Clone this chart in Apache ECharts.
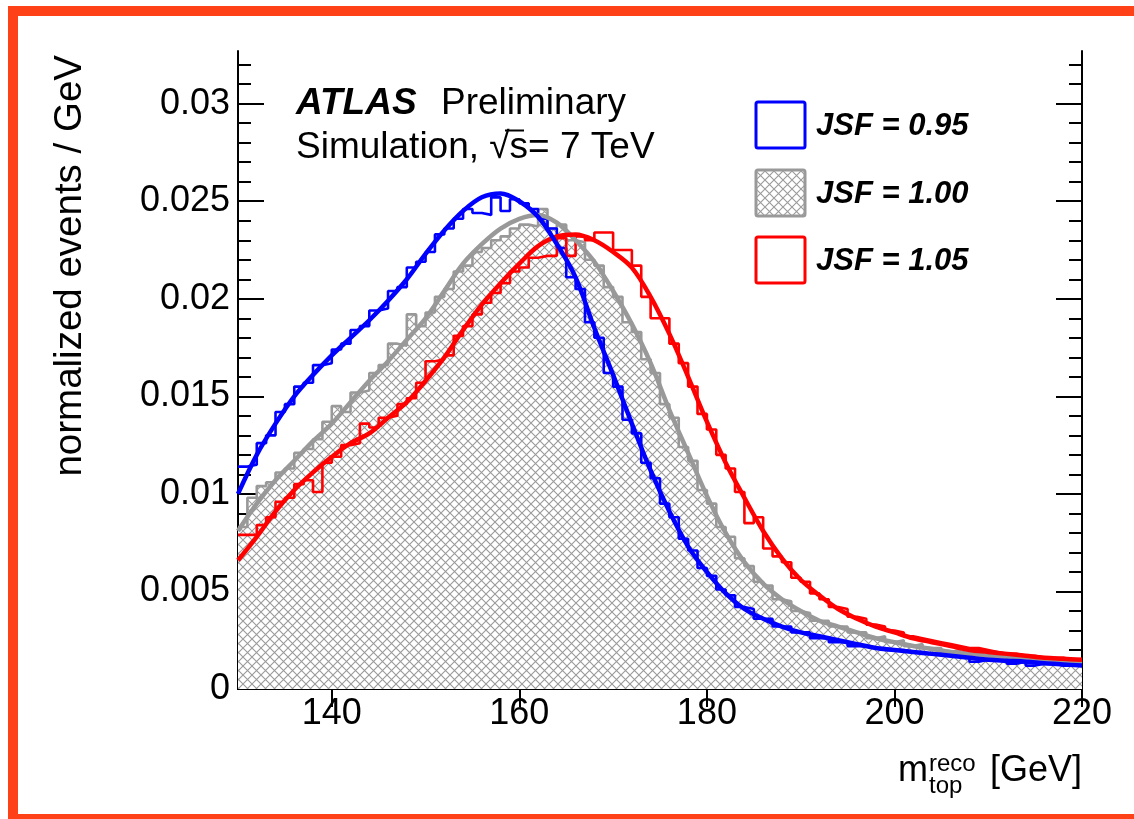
<!DOCTYPE html>
<html><head><meta charset="utf-8">
<script src="https://cdn.jsdelivr.net/npm/echarts@6/dist/echarts.min.js"></script>
<style>html,body{margin:0;padding:0;background:#fff}#c{width:1134px;height:819px}</style>
</head><body><div id="c"></div><script>
// ---------------- data ----------------
const binLow = 130;           // first bin low edge [GeV]
const binWidth = 1;           // bin width [GeV]
const histBlue = [
 0.0114,0.0115,0.0126,0.0130,0.0142,0.0146,0.0155,0.0157,0.0166,0.0167,
 0.0174,0.0177,0.0184,0.0186,0.0194,0.0195,0.0204,0.0206,0.0216,0.0219,
 0.0224,0.0233,0.0236,0.0241,0.0246,0.0244,0.0243,0.0252,0.0245,0.0251,
 0.0249,0.0246,0.0241,0.0236,0.0226,0.0211,0.0205,0.0188,0.0180,0.0162,
 0.0155,0.0138,0.0131,0.0116,0.0108,0.0095,0.0088,0.0077,0.0071,0.0062,
 0.0058,0.0051,0.0048,0.0042,0.0041,0.0036,0.0036,0.0032,0.0032,0.0029,
 0.0029,0.0026,0.0026,0.0024,0.0024,0.0022,0.0022,0.0021,0.0021,0.0020,
 0.0020,0.0019,0.0019,0.0018,0.0018,0.0017,0.0017,0.0016,0.0014,0.0015,
 0.0015,0.0015,0.0013,0.0014,0.0012,0.0013,0.0013,0.0012,0.0012,0.0012];
const histGray = [
 0.0083,0.0098,0.0104,0.0106,0.0111,0.0113,0.0121,0.0123,0.0128,0.0137,
 0.0145,0.0142,0.0152,0.0153,0.0162,0.0166,0.0177,0.0176,0.0192,0.0186,
 0.0193,0.0201,0.0205,0.0214,0.0217,0.0224,0.0226,0.0230,0.0232,0.0236,
 0.0238,0.0237,0.0246,0.0236,0.0238,0.0230,0.0229,0.0220,0.0217,0.0206,
 0.0201,0.0188,0.0183,0.0169,0.0162,0.0146,0.0139,0.0124,0.0117,0.0102,
 0.0095,0.0083,0.0078,0.0067,0.0063,0.0055,0.0053,0.0046,0.0045,0.0040,
 0.0039,0.0035,0.0035,0.0032,0.0032,0.0029,0.0029,0.0026,0.0027,0.0024,
 0.0025,0.0022,0.0023,0.0021,0.0021,0.0019,0.0020,0.0018,0.0018,0.0017,
 0.0017,0.0016,0.0016,0.0015,0.0015,0.0015,0.0014,0.0014,0.0014,0.0013];
const histRed = [
 0.0079,0.0079,0.0084,0.0088,0.0096,0.0098,0.0105,0.0107,0.0101,0.0116,
 0.0119,0.0125,0.0126,0.0136,0.0134,0.0139,0.0140,0.0146,0.0149,0.0157,
 0.0168,0.0169,0.0171,0.0181,0.0186,0.0192,0.0198,0.0203,0.0208,0.0214,
 0.0216,0.0221,0.0222,0.0222,0.0231,0.0222,0.0232,0.0230,0.0234,0.0234,
 0.0225,0.0225,0.0217,0.0201,0.0190,0.0190,0.0177,0.0167,0.0155,0.0141,
 0.0133,0.0120,0.0113,0.0101,0.0085,0.0088,0.0072,0.0068,0.0065,0.0057,
 0.0055,0.0049,0.0046,0.0042,0.0041,0.0037,0.0036,0.0033,0.0032,0.0030,
 0.0029,0.0027,0.0026,0.0025,0.0024,0.0023,0.0022,0.0021,0.0021,0.0020,
 0.0019,0.0018,0.0018,0.0017,0.0017,0.0016,0.0016,0.0016,0.0015,0.0015];
const curveX = [130,132,134,136,138,140,142,144,146,148,150,152,154,156,158,160,162,164,166,168,
 170,172,174,176,178,180,182,184,186,188,190,192,194,196,198,200,202,204,206,208,210,212,214,216,218,220];
const curveBlue = [0.0100,0.0120,0.0136,0.0150,0.0161,0.0171,0.0180,0.0189,0.0199,0.0210,
 0.0223,0.0235,0.0245,0.0252,0.0254,0.0250,0.0242,0.0228,0.0211,0.0185,
 0.0161,0.0136,0.0112,0.0091,0.0073,0.0060,0.0049,0.0041,0.0036,0.0032,
 0.0029,0.0027,0.0025,0.0023,0.0021,0.0020,0.0019,0.0018,0.0017,0.0016,
 0.0015,0.00145,0.0014,0.00132,0.00126,0.0012];
const curveGray = [0.0081,0.0095,0.0107,0.0117,0.0127,0.0136,0.0147,0.0158,0.0168,0.0179,
 0.0190,0.0204,0.0218,0.0228,0.0236,0.0241,0.0243,0.0239,0.0230,0.0219,
 0.0204,0.0187,0.0167,0.0143,0.0121,0.0099,0.0080,0.0065,0.0054,0.0046,
 0.0040,0.0035,0.0032,0.0029,0.0026,0.0024,0.0022,0.00205,0.0019,0.0018,
 0.0017,0.0016,0.00153,0.00146,0.0014,0.00133];
const curveRed = [0.0066,0.0078,0.0091,0.0102,0.0111,0.0119,0.0126,0.0131,0.0139,0.0147,
 0.0158,0.0170,0.0184,0.0197,0.0208,0.0218,0.0227,0.0232,0.0233,0.0230,
 0.0224,0.0216,0.0201,0.0182,0.0160,0.0137,0.0116,0.0098,0.0081,0.0067,
 0.0056,0.0048,0.0041,0.0036,0.0032,0.0029,0.0026,0.0024,0.0022,0.0020,
 0.0019,0.0018,0.0017,0.0016,0.00155,0.0015];
const xTicks = [140,160,180,200,220];
const yTicks = [0,0.005,0.01,0.015,0.02,0.025,0.03];
const yMinorTicks = [0.001,0.002,0.003,0.004,0.006,0.007,0.008,0.009,0.011,0.012,0.013,0.014,
 0.016,0.017,0.018,0.019,0.021,0.022,0.023,0.024,0.026,0.027,0.028,0.029,0.031,0.032];
const legendLabels = ['JSF = 0.95','JSF = 1.00','JSF = 1.05'];
const xRange = [130,220];
const yRange = [0,0.0327];

// ---------------- helpers ----------------
const FONT = '"Liberation Sans", Arial, Helvetica, sans-serif';
const BLUE = '#0000ff', RED = '#ff0000', GRAY = '#999999';
function hatchCanvas(){
  const s = 9, c = document.createElement('canvas');
  c.width = s; c.height = s;
  const g = c.getContext('2d');
  g.fillStyle = '#ffffff'; g.fillRect(0,0,s,s);
  g.strokeStyle = '#9a9a9a'; g.lineWidth = 1.1;
  g.beginPath();
  g.moveTo(-1,-1); g.lineTo(s+1,s+1);
  g.moveTo(-1,s+1); g.lineTo(s+1,-1);
  g.stroke();
  return c;
}
const hatch = {image: hatchCanvas(), repeat: 'repeat'};
function histPoints(vals){
  const pts = vals.map((v,i)=>[binLow + i*binWidth, v]);
  pts.push([binLow + vals.length*binWidth, vals[vals.length-1]]);
  return pts;
}
function curvePoints(vals){ return vals.map((v,i)=>[curveX[i], v]); }
function fmtY(v){ return v === 0 ? '0' : String(+v.toFixed(3)); }

const axisLineStyle = {color:'#000', width:2};
function yAx(pos, major){
  return {
    type:'value', min:yRange[0], max:yRange[1], position:pos,
    axisLine:{show: major, lineStyle:axisLineStyle},
    axisTick:{show:true, inside:true, length: major?26:13, customValues: major?yTicks:yMinorTicks,
              lineStyle:{color:'#000', width:2}},
    axisLabel:{show: major && pos==='left', customValues: yTicks, formatter: fmtY,
               fontSize:36, fontFamily:FONT, color:'#000', margin:8},
    splitLine:{show:false}
  };
}
function xAx(pos){
  return {
    type:'value', min:xRange[0], max:xRange[1], position:pos,
    axisLine:{show:true, lineStyle:axisLineStyle},
    axisTick:{show:true, inside:true, length:18, customValues:xTicks, lineStyle:{color:'#000', width:2}},
    axisLabel:{show: pos==='bottom', customValues:xTicks, fontSize:36, fontFamily:FONT, color:'#000', margin:7},
    splitLine:{show:false}
  };
}

const chart = echarts.init(document.getElementById('c'), null, {renderer:'canvas'});
const legendColors = [BLUE, GRAY, RED];
const legendY = [102, 170, 237];
const graphics = [
  {type:'rect', shape:{x:13, y:11, width:1135, height:808}, style:{fill:'none', stroke:'#ff4117', lineWidth:10}, z:100},
  {type:'text', x:296, y:104, style:{text:'ATLAS', font:'italic bold 37px '+FONT, fill:'#000', textVerticalAlign:'middle'}},
  {type:'text', x:441, y:104, style:{text:'Preliminary', font:'37px '+FONT, fill:'#000', textVerticalAlign:'middle'}},
  {type:'text', x:296, y:148, style:{text:'Simulation, \u221As= 7 TeV', font:'37px '+FONT, fill:'#000', textVerticalAlign:'middle'}},
  {type:'line', shape:{x1:505, y1:130.5, x2:524, y2:130.5}, style:{stroke:'#000', lineWidth:2}},
  {type:'text', x:70, y:55, rotation:Math.PI/2, style:{text:'normalized events / GeV', font:'38.5px '+FONT, fill:'#000', textAlign:'right', textVerticalAlign:'middle'}},
  {type:'text', x:898, y:771, style:{text:'m', font:'36px '+FONT, fill:'#000', textVerticalAlign:'middle'}},
  {type:'text', x:929, y:764, style:{text:'reco', font:'24px '+FONT, fill:'#000', textVerticalAlign:'middle'}},
  {type:'text', x:929, y:786, style:{text:'top', font:'24px '+FONT, fill:'#000', textVerticalAlign:'middle'}},
  {type:'text', x:1082, y:771, style:{text:'[GeV]', font:'36px '+FONT, fill:'#000', textAlign:'right', textVerticalAlign:'middle'}}
];
legendLabels.forEach((lab,i)=>{
  graphics.push({type:'rect', shape:{x:756, y:legendY[i], width:49, height:46, r:2},
    style:{fill: i===1 ? hatch : '#fff', stroke: legendColors[i], lineWidth:3}});
  graphics.push({type:'text', x:816, y:legendY[i]+24, style:{text:lab, font:'italic bold 31px '+FONT, fill:'#000', textVerticalAlign:'middle'}});
});

function histSeries(vals, color, area){
  const s = {type:'line', step:'end', data:histPoints(vals), symbol:'none', silent:true,
    lineStyle:{color:color, width:2.6}, xAxisIndex:0, yAxisIndex:0, animation:false};
  if (area) s.areaStyle = {color: hatch, opacity:1};
  return s;
}
function curveSeries(vals, color){
  return {type:'line', smooth:0.35, data:curvePoints(vals), symbol:'none', silent:true,
    lineStyle:{color:color, width:4.5}, xAxisIndex:0, yAxisIndex:0, animation:false};
}

chart.setOption({
  backgroundColor:'#fff',
  animation:false,
  grid:{left:238, top:51, right:52, bottom:130, containLabel:false},
  xAxis:[xAx('bottom'), xAx('top')],
  yAxis:[yAx('left',true), yAx('left',false), yAx('right',true), yAx('right',false)],
  series:[
    histSeries(histGray, GRAY, true),
    histSeries(histBlue, BLUE, false),
    histSeries(histRed, RED, false),
    curveSeries(curveGray, GRAY),
    curveSeries(curveRed, RED),
    curveSeries(curveBlue, BLUE)
  ],
  graphic: graphics
});
</script></body></html>
